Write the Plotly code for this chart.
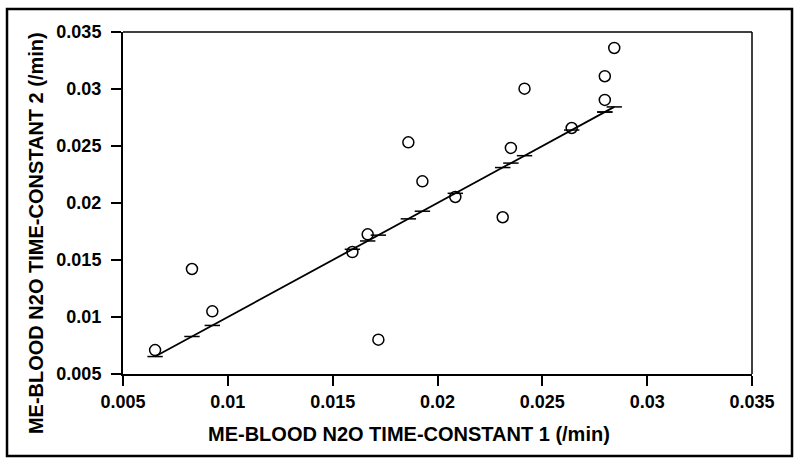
import plotly.graph_objects as go

# Data
tc1 = [0.00653, 0.00829, 0.00926, 0.01594, 0.01667, 0.01718, 0.01861, 0.01928,
       0.02085, 0.02311, 0.02350, 0.02415, 0.02640, 0.02798, 0.02798, 0.02843]
tc2 = [0.00710, 0.01421, 0.01050, 0.01570, 0.01725, 0.00801, 0.02532, 0.02190,
       0.02053, 0.01875, 0.02483, 0.03003, 0.02658, 0.02904, 0.03112, 0.03360]
tick_vals = [0.005, 0.01, 0.015, 0.02, 0.025, 0.03, 0.035]
tick_text = ["0.005", "0.01", "0.015", "0.02", "0.025", "0.03", "0.035"]

# fitted line coefficients
fit_slope = 1.0
fit_intercept = 0.0
fit_x = sorted(tc1)
fit_y = [fit_intercept + fit_slope * v for v in fit_x]

FONT = "Liberation Sans, Arial, sans-serif"

fig = go.Figure()
fig.add_trace(go.Scatter(x=fit_x, y=fit_y, mode="lines+markers",
                         line=dict(color="black", width=1.8),
                         marker=dict(symbol="line-ew", size=11, color="black",
                                     line=dict(width=1.5, color="black")),
                         showlegend=False, hoverinfo="skip"))
fig.add_trace(go.Scatter(x=tc1, y=tc2, mode="markers",
                         marker=dict(symbol="circle-open", size=11, color="black",
                                     line=dict(width=1.5, color="black")),
                         showlegend=False))

axis_common = dict(range=[0.005, 0.035], tickvals=tick_vals, ticktext=tick_text,
                   showgrid=False, zeroline=False, showline=True, linecolor="black",
                   linewidth=2, ticks="outside", ticklen=10, tickwidth=1.5,
                   tickcolor="black",
                   tickfont=dict(family=FONT, size=18, color="black", weight="bold"))

fig.update_xaxes(**axis_common)
fig.update_yaxes(**axis_common, ticklabelstandoff=6)

# top and right borders of the plot area
fig.add_shape(type="line", xref="paper", yref="paper", x0=0, x1=1, y0=1, y1=1,
              line=dict(color="black", width=1.5))
fig.add_shape(type="line", xref="paper", yref="paper", x0=1, x1=1, y0=0, y1=1,
              line=dict(color="black", width=1.5))
# outer frame
fig.add_shape(type="rect", xref="paper", yref="paper",
              x0=-0.1844, x1=1.0636, y0=-0.2398, y1=1.0673,
              line=dict(color="black", width=2.5))

fig.add_annotation(text="ME-BLOOD N2O TIME-CONSTANT 1 (/min)", xref="paper", yref="paper",
                   x=0.4539, y=-0.1754, showarrow=False, xanchor="center", yanchor="middle",
                   font=dict(family=FONT, size=20, color="black", weight="bold"))
fig.add_annotation(text="ME-BLOOD N2O TIME-CONSTANT 2 (/min)", xref="paper", yref="paper",
                   x=-0.1383, y=0.412, showarrow=False, xanchor="center", yanchor="middle",
                   textangle=-90,
                   font=dict(family=FONT, size=20, color="black", weight="bold"))

fig.update_layout(width=800, height=466, margin=dict(l=123, r=48, t=32, b=92),
                  plot_bgcolor="white", paper_bgcolor="white", hovermode=False)

fig.write_html("out.html", config={"displayModeBar": False},
               post_script="document.body.style.margin='0';document.body.style.overflow='hidden';")
